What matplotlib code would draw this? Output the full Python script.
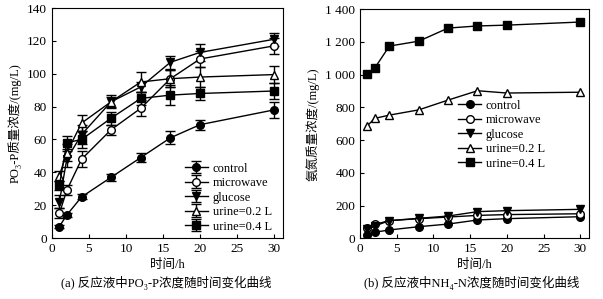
import matplotlib
matplotlib.use("Agg")
import matplotlib.pyplot as plt
from matplotlib.ticker import FuncFormatter

plt.rcParams["font.family"] = ["Liberation Serif", "Noto Sans CJK SC"]

# sampling times (h)
hours = [1, 2, 4, 8, 12, 16, 20, 30]
labels = ["control", "microwave", "glucose", "urine=0.2 L", "urine=0.4 L"]
markers = ["o", "o", "v", "^", "s"]
faces = ["black", "white", "black", "white", "black"]

# (a) PO3-P concentration, mg/L
po_control = [7, 14, 25, 37, 49, 61, 69, 78]
po_microwave = [15, 29, 48, 66, 79, 97, 109, 117]
po_glucose = [22, 48, 63, 83, 92, 107, 113, 121]
po_urine02 = [38, 52, 70, 83, 95, 97, 98, 99.5]
po_urine04 = [32, 58, 60, 73, 85, 87, 88, 89.5]

po_control_err = [1, 1.5, 1.5, 2, 3, 4, 3, 5]
po_microwave_err = [3, 3, 5, 3, 5, 5, 5, 5]
po_glucose_err = [4, 5, 6, 3, 3, 4, 5, 4]
po_urine02_err = [3, 5, 5, 4, 6, 5, 6, 5]
po_urine04_err = [3, 4, 5, 4, 4, 6, 4, 5]

# (b) NH4-N concentration, mg/L
nh_control = [20, 37, 51, 71, 87, 112, 120, 132]
nh_microwave = [62, 85, 108, 120, 130, 140, 145, 150]
nh_glucose = [55, 75, 108, 122, 136, 163, 169, 177]
nh_urine02 = [688, 733, 753, 785, 845, 902, 888, 893]
nh_urine04 = [1002, 1040, 1175, 1205, 1285, 1298, 1303, 1322]

FS = 9


def style_axes(ax):
    ax.set_xlim(0, 31.2)
    ax.set_xticks([0, 5, 10, 15, 20, 25, 30])
    ax.tick_params(direction="in", labelsize=9.5, length=3, width=0.8)
    for spine in ax.spines.values():
        spine.set_linewidth(0.8)
    ax.set_xlabel("时间/h", fontsize=FS, labelpad=3)


fig = plt.figure(figsize=(6.03, 2.99), dpi=100)
ax1 = fig.add_axes([0.0862, 0.204, 0.383, 0.769])
ax2 = fig.add_axes([0.597, 0.203, 0.380, 0.766])

po_series = [po_control, po_microwave, po_glucose, po_urine02, po_urine04]
po_errs = [po_control_err, po_microwave_err, po_glucose_err, po_urine02_err, po_urine04_err]
for vals, err, lab, m, fc in zip(po_series, po_errs, labels, markers, faces):
    ax1.errorbar(hours, vals, yerr=err, label=lab, color="black", marker=m,
                 markerfacecolor=fc, markeredgecolor="black", markersize=5.5,
                 lw=1, elinewidth=1, capsize=3.5, capthick=1)
ax1.set_ylim(0, 140)
ax1.set_yticks(range(0, 141, 20))
style_axes(ax1)
ax1.set_ylabel("PO₃-P质量浓度/(mg/L)", fontsize=FS, labelpad=4)
ax1.legend(loc="lower right", bbox_to_anchor=(1.0, -0.025), frameon=False,
           fontsize=FS, handlelength=1.8, handletextpad=0.4, labelspacing=0.2)

nh_series = [nh_control, nh_microwave, nh_glucose, nh_urine02, nh_urine04]
for vals, lab, m, fc in zip(nh_series, labels, markers, faces):
    ax2.plot(hours, vals, label=lab, color="black", marker=m, markerfacecolor=fc,
             markeredgecolor="black", markersize=5.5, lw=1)
ax2.set_ylim(0, 1400)
ax2.set_yticks(range(0, 1401, 200))
ax2.yaxis.set_major_formatter(FuncFormatter(lambda v, p: f"{int(v):,}".replace(",", " ")))
style_axes(ax2)
ax2.set_ylabel("氨氮质量浓度/(mg/L)", fontsize=FS, labelpad=4)
ax2.legend(loc="upper left", bbox_to_anchor=(0.38, 0.655), frameon=False,
           fontsize=FS, handlelength=1.8, handletextpad=0.4, labelspacing=0.2)

fig.text(0.275, 0.04, "(a) 反应液中PO₃-P浓度随时间变化曲线", ha="center", fontsize=FS)
fig.text(0.782, 0.04, "(b) 反应液中NH₄-N浓度随时间变化曲线", ha="center", fontsize=FS)

fig.savefig("out.png", dpi=100, facecolor="white")
